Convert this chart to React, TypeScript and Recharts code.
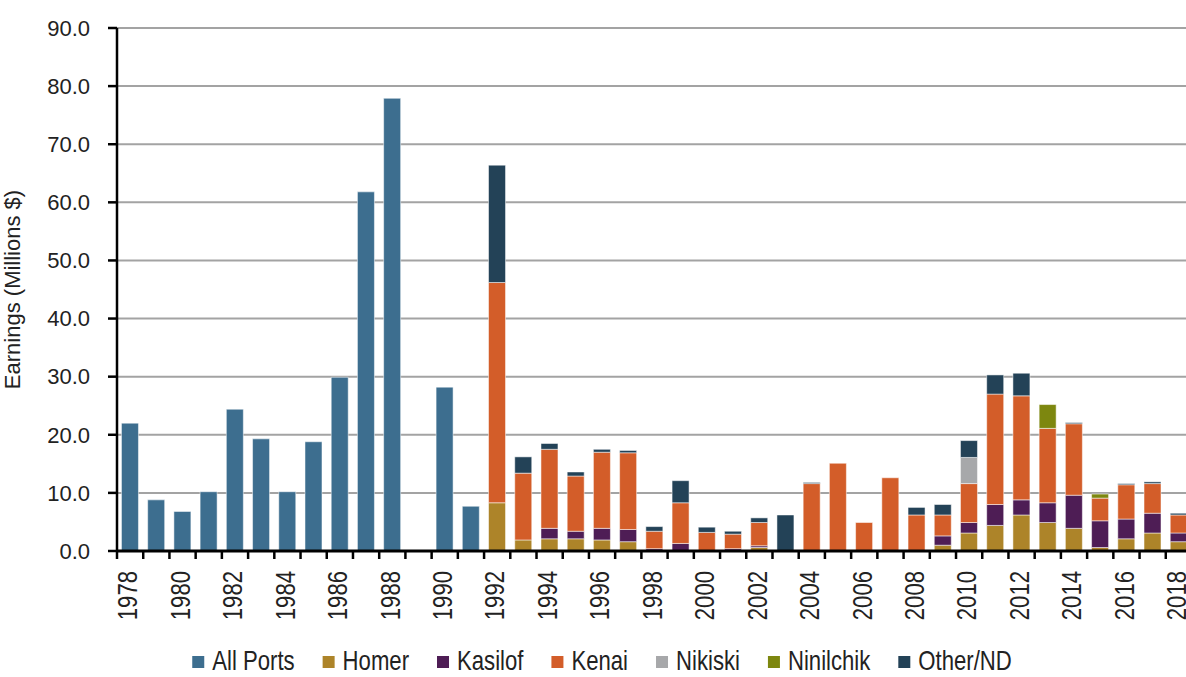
import React, { useLayoutEffect, useRef, useState } from "react";
import { BarChart, Bar, XAxis, YAxis, CartesianGrid } from "recharts";

const years = [
  "1978", "1979", "1980", "1981", "1982", "1983", "1984", "1985", "1986", "1987",
  "1988", "1989", "1990", "1991", "1992", "1993", "1994", "1995", "1996", "1997",
  "1998", "1999", "2000", "2001", "2002", "2003", "2004", "2005", "2006", "2007",
  "2008", "2009", "2010", "2011", "2012", "2013", "2014", "2015", "2016", "2017",
  "2018",
];

// millions $, one value per year (1978..2018)
const allPorts = [
  22.0, 8.8, 6.8, 10.2, 24.4, 19.3, 10.2, 18.8, 29.9, 61.8,
  77.9, 0, 28.2, 7.7, 0, 0, 0, 0, 0, 0,
  0, 0, 0, 0, 0, 0, 0, 0, 0, 0,
  0, 0, 0, 0, 0, 0, 0, 0, 0, 0,
  0,
];
const homer = [
  0, 0, 0, 0, 0, 0, 0, 0, 0, 0,
  0, 0, 0, 0, 8.3, 1.9, 2.1, 2.1, 1.9, 1.6,
  0, 0, 0, 0, 0.6, 0, 0, 0, 0, 0,
  0, 1.0, 3.1, 4.4, 6.2, 4.9, 3.9, 0.6, 2.1, 3.1,
  1.6,
];
const kasilof = [
  0, 0, 0, 0, 0, 0, 0, 0, 0, 0,
  0, 0, 0, 0, 0, 0, 1.8, 1.3, 2.0, 2.1,
  0.4, 1.3, 0, 0.4, 0.3, 0, 0, 0, 0, 0,
  0, 1.6, 1.8, 3.6, 2.6, 3.4, 5.7, 4.6, 3.4, 3.4,
  1.5,
];
const kenai = [
  0, 0, 0, 0, 0, 0, 0, 0, 0, 0,
  0, 0, 0, 0, 37.9, 11.5, 13.6, 9.5, 13.1, 13.2,
  3.0, 7.0, 3.2, 2.5, 4.0, 0, 11.6, 15.1, 4.9, 12.6,
  6.2, 3.6, 6.7, 19.0, 17.9, 12.8, 12.3, 3.9, 5.9, 5.1,
  3.1,
];
const nikiski = [
  0, 0, 0, 0, 0, 0, 0, 0, 0, 0,
  0, 0, 0, 0, 0, 0, 0, 0, 0, 0,
  0, 0, 0, 0, 0, 0, 0, 0, 0, 0,
  0, 0, 4.5, 0, 0, 0, 0, 0, 0, 0,
  0,
];
const ninilchik = [
  0, 0, 0, 0, 0, 0, 0, 0, 0, 0,
  0, 0, 0, 0, 0, 0, 0, 0, 0, 0,
  0, 0, 0, 0, 0, 0, 0, 0, 0, 0,
  0, 0, 0, 0, 0, 4.1, 0, 0.7, 0, 0,
  0,
];
const otherNd = [
  0, 0, 0, 0, 0, 0, 0, 0, 0, 0,
  0, 0, 0, 0, 20.2, 2.8, 1.0, 0.7, 0.5, 0.4,
  0.8, 3.8, 0.9, 0.5, 0.8, 6.2, 0.2, 0, 0, 0,
  1.3, 1.8, 2.9, 3.3, 3.9, 0, 0.2, 0, 0.2, 0.3,
  0.3,
];

const yTicks = [0, 10, 20, 30, 40, 50, 60, 70, 80, 90];

const series = [
  { key: "allPorts", name: "All Ports", color: "#3D6E8F" },
  { key: "homer", name: "Homer", color: "#AD8429" },
  { key: "kasilof", name: "Kasilof", color: "#4E1D55" },
  { key: "kenai", name: "Kenai", color: "#D35D29" },
  { key: "nikiski", name: "Nikiski", color: "#A7A8AA" },
  { key: "ninilchik", name: "Ninilchik", color: "#7D870F" },
  { key: "otherNd", name: "Other/ND", color: "#234257" },
];

const data = years.map((year, i) => ({
  year,
  allPorts: allPorts[i],
  homer: homer[i],
  kasilof: kasilof[i],
  kenai: kenai[i],
  nikiski: nikiski[i],
  ninilchik: ninilchik[i],
  otherNd: otherNd[i],
}));

const CHART_W = 1200;
const CHART_H = 677;
const Y_AXIS_W = 117;
const MARGIN = { top: 28, right: 8, bottom: 51, left: 0 };
const BAND = (CHART_W - MARGIN.left - MARGIN.right - Y_AXIS_W) / years.length;

// the source uses a narrow face; squeeze Liberation Sans to get close to it
const SQUEEZE = 0.82;
const arial = "'Liberation Sans', Arial, sans-serif";

function YearTick(props: any) {
  const { x, y, payload, index } = props;
  const left = x - BAND / 2;
  const isLast = index === years.length - 1;
  return (
    <g>
      <line x1={left} y1={y} x2={left} y2={y + 8} stroke="#000" strokeWidth={2.5} />
      {isLast && <line x1={left + BAND} y1={y} x2={left + BAND} y2={y + 8} stroke="#000" strokeWidth={2.5} />}
      {index % 2 === 0 && (
        <text
          transform={`translate(${x - 2},${y + 20}) rotate(-90) scale(${SQUEEZE},1)`}
          textAnchor="end"
          dominantBaseline="central"
          fontFamily={arial}
          fontSize={27}
          fill="#222"
        >
          {payload.value}
        </text>
      )}
    </g>
  );
}

// legend drawn in svg so the squeezed text can be measured and laid out
function LegendRow() {
  const refs = useRef<(SVGTextElement | null)[]>([]);
  const [widths, setWidths] = useState<number[]>(series.map(() => 80));

  useLayoutEffect(() => {
    setWidths(refs.current.map((t) => (t ? t.getComputedTextLength() * SQUEEZE : 80)));
  }, []);

  const icon = 12;
  const iconGap = 8;
  const itemGap = 28;
  const total =
    widths.reduce((sum, w) => sum + icon + iconGap + w, 0) + itemGap * (series.length - 1);
  let cursor = 602 - total / 2;

  return (
    <svg
      width={1186}
      height={37}
      style={{ position: "absolute", left: 0, top: 638 }}
    >
      {series.map((s, i) => {
        const x0 = cursor;
        cursor += icon + iconGap + widths[i] + itemGap;
        return (
          <g key={s.key}>
            <rect x={x0} y={18} width={icon} height={12} fill={s.color} />
            <text
              ref={(el) => {
                refs.current[i] = el;
              }}
              transform={`translate(${x0 + icon + iconGap},32) scale(${SQUEEZE},1)`}
              fontFamily={arial}
              fontSize={27}
              fill="#222"
            >
              {s.name}
            </text>
          </g>
        );
      })}
    </svg>
  );
}

export default function App() {
  return (
    <div
      style={{
        position: "absolute",
        left: 0,
        top: 0,
        width: 1186,
        height: 677,
        overflow: "hidden",
        background: "#fff",
      }}
    >
      <BarChart
        width={CHART_W}
        height={CHART_H}
        data={data}
        margin={MARGIN}
        barCategoryGap="17%"
      >
        <CartesianGrid vertical={false} stroke="#A3A3A3" strokeWidth={2} />
        <XAxis
          dataKey="year"
          interval={0}
          height={75}
          tickSize={0}
          tickMargin={0}
          tickLine={false}
          axisLine={{ stroke: "#000", strokeWidth: 3 }}
          tick={<YearTick />}
        />
        <YAxis
          width={Y_AXIS_W}
          domain={[0, 90]}
          ticks={yTicks}
          interval={0}
          tickFormatter={(v: number) => v.toFixed(1)}
          tickSize={9}
          tickMargin={18}
          axisLine={{ stroke: "#000", strokeWidth: 2.5 }}
          tickLine={{ stroke: "#000", strokeWidth: 2.5 }}
          tick={{ fontFamily: arial, fontSize: 22, fill: "#222" }}
          label={{
            value: "Earnings (Millions $)",
            angle: -90,
            position: "insideLeft",
            offset: 12,
            style: { textAnchor: "middle", fontFamily: arial, fontSize: 22, fill: "#222" },
          }}
        />
        {series.map((s) => (
          <Bar
            key={s.key}
            dataKey={s.key}
            name={s.name}
            stackId="a"
            fill={s.color}
            stroke="#ffffff"
            strokeOpacity={0.5}
            strokeWidth={1}
            isAnimationActive={false}
          />
        ))}
      </BarChart>
      <LegendRow />
    </div>
  );
}
